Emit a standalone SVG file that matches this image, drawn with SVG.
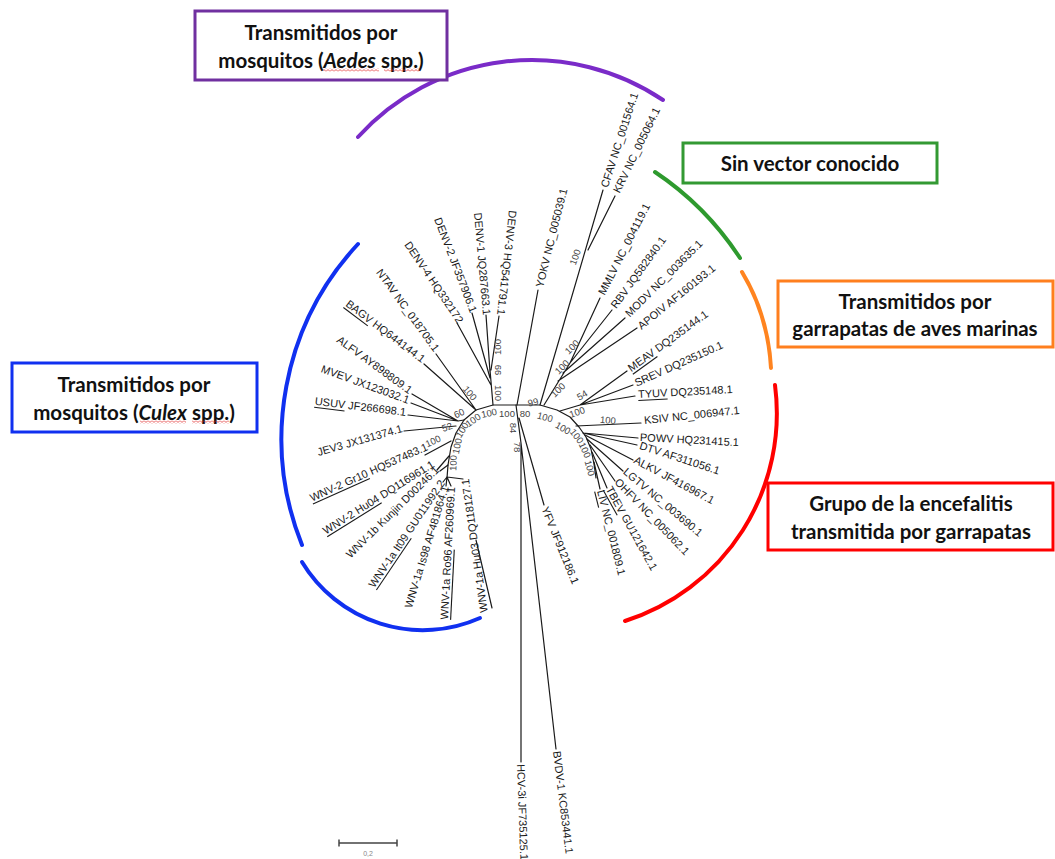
<svg xmlns="http://www.w3.org/2000/svg" width="1055" height="859" viewBox="0 0 1055 859">
<style>
.lf{font-family:"Liberation Sans",Arial,sans-serif;font-size:11px;fill:#1a1a1a;dominant-baseline:central}
.e{text-anchor:end}
.bs{font-family:"Liberation Sans",Arial,sans-serif;font-size:9.5px;fill:#444;text-anchor:middle;dominant-baseline:central}
.u{text-decoration:underline}
.br{fill:none;stroke:#1a1a1a;stroke-width:1.2;stroke-linecap:round;stroke-linejoin:round}
.bx{fill:#fff;stroke-width:3}
.tt{font-family:Lato,"Liberation Sans",sans-serif;font-size:20.5px;font-weight:700;fill:#111;text-anchor:middle}
.arc{fill:none;stroke-width:4;stroke-linecap:round}
</style>
<defs>
<pattern id="wavy" width="4" height="3" patternUnits="userSpaceOnUse"><path d="M0,0.6 L2,2.4 L4,0.6" fill="none" stroke="#e02020" stroke-width="0.7"/></pattern>
</defs>
<rect width="1055" height="859" fill="#fff"/>

<g id="clade-arcs">
<path class="arc" stroke="#7A2BC8" d="M358,137 A235,235 0 0 1 663,100"/>
<path class="arc" stroke="#1030F0" d="M358,244 A286,286 0 0 0 302,545"/>
<path class="arc" stroke="#1030F0" d="M302,562 A141,141 0 0 0 480,618"/>
<path class="arc" stroke="#2E9A2E" d="M655,172 Q706,206 740,258"/>
<path class="arc" stroke="#FF8420" d="M742,272 Q768,315 771,368"/>
<path class="arc" stroke="#FF0000" d="M775,385 A218,218 0 0 1 625,621"/>
</g>

<g id="connectors">
<path class="br" d="M447,478 L448,465 L451,447 L456,433 L464,420 L476,410 L493,405 L516,405 L540,405 L557,410 L570,417 L579,427 L586,437 L591,449 L594,464 L596,478"/>
<path class="br" d="M436,354 L476,410 M424,364 L476,410"/>
<path class="br" d="M412,394 L458,421 M411,403 L458,421 M408,415 L458,421 L464,420 M404,431 L456,426"/>
<path class="br" d="M425,455 L451,441 M437,470 L449,456 M440,471 L448,465 M443,482 L447,477 M446,486 L447,477 M451,486 L447,477 M463,479 L447,477"/>
<path class="br" d="M457,323 L491,385 M472,313 L490,378 M486,315 L490,372 M499,316 L491,370 M490,370 L493,405"/>
<path class="br" d="M538,290 L517,405 M603,190 L540,405 M615,196 L588,250"/>
<path class="br" d="M600,298 L570,363 M612,310 L570,363 M625,318 L563,373 M637,328 L558,381 M570,363 L544,405"/>
<path class="br" d="M627,371 L580,405 M633,385 L580,405 M635,396 L580,405 L560,411"/>
<path class="br" d="M641,423 L576,426 M638,438 L583,433 M637,445 L583,433 M633,460 L585,435 M623,471 L587,439 M615,481 L590,445 M607,488 L592,452 M600,489 L594,462"/>
<path class="br" d="M544,505 L519,418 M516,405 L521,443 L521,762 M521,443 L556,749"/>
<path class="br" stroke-width="1.6" d="M476,540 L492,608"/>
</g>

<g id="bootstrap">
<text class="bs" transform="translate(470,393) rotate(50)">100</text>
<text class="bs" transform="translate(459,413) rotate(-25)">60</text>
<text class="bs" transform="translate(447,427) rotate(-20)">52</text>
<text class="bs" transform="translate(433,441) rotate(-24)">100</text>
<text class="bs" transform="translate(489,413) rotate(-12)">100</text>
<text class="bs" transform="translate(473,420) rotate(-35)">100</text>
<text class="bs" transform="translate(462,430) rotate(-58)">100</text>
<text class="bs" transform="translate(457,446) rotate(-78)">100</text>
<text class="bs" transform="translate(453,463) rotate(-88)">100</text>
<text class="bs" transform="translate(507,413)">100</text>
<text class="bs" transform="translate(525,413)">80</text>
<text class="bs" transform="translate(545,417) rotate(15)">100</text>
<text class="bs" transform="translate(563,428) rotate(30)">100</text>
<text class="bs" transform="translate(577,436) rotate(52)">100</text>
<text class="bs" transform="translate(585,450) rotate(65)">100</text>
<text class="bs" transform="translate(590,468) rotate(75)">100</text>
<text class="bs" transform="translate(533,402) rotate(-15)">99</text>
<text class="bs" transform="translate(582,395) rotate(-30)">54</text>
<text class="bs" transform="translate(577,412) rotate(-20)">100</text>
<text class="bs" transform="translate(608,420) rotate(5)">100</text>
<text class="bs" transform="translate(572,347) rotate(-45)">100</text>
<text class="bs" transform="translate(562,367) rotate(-45)">100</text>
<text class="bs" transform="translate(558,390) rotate(-45)">100</text>
<text class="bs" transform="translate(575,257) rotate(-70)">100</text>
<text class="bs" transform="translate(513,428) rotate(90)">84</text>
<text class="bs" transform="translate(517,447) rotate(90)">78</text>
<text class="bs" transform="translate(497,347) rotate(-90)">100</text>
<text class="bs" transform="translate(497,370) rotate(-90)">99</text>
<text class="bs" transform="translate(498,393) rotate(90)">100</text>
</g>

<g id="leaf-NTAV"><text class="lf e" transform="translate(437,350) rotate(54)">NTAV NC_018705.1</text></g>
<g id="leaf-BAGV"><text class="lf e" transform="translate(424,360) rotate(37)"><tspan class="u">BAGV</tspan> HQ644144.1</text></g>
<g id="leaf-ALFV"><text class="lf e" transform="translate(411,391) rotate(36)">ALFV AY898809.1</text></g>
<g id="leaf-MVEV"><text class="lf e" transform="translate(409,400) rotate(20)">MVEV JX123032.1</text></g>
<g id="leaf-USUV"><text class="lf e" transform="translate(406,412) rotate(7)"><tspan class="u">USUV</tspan> JF266698.1</text></g>
<g id="leaf-JEV3"><text class="lf e" transform="translate(402,428) rotate(-16)">JEV3 JX131374.1</text></g>
<g id="leaf-WNV2Gr10"><text class="lf e" transform="translate(427,446) rotate(-24)"><tspan class="u">WNV-2 Gr10</tspan> HQ537483.1</text></g>
<g id="leaf-WNV2Hu04"><text class="lf e" transform="translate(433,463) rotate(-32)"><tspan class="u">WNV-2 Hu04</tspan> DQ116961.1</text></g>
<g id="leaf-WNV1bKunjin"><text class="lf e" transform="translate(437,468) rotate(-44.5)">WNV-1b Kunjin D00246.1</text></g>
<g id="leaf-WNV1aIt09"><text class="lf e" transform="translate(442,481) rotate(-56)"><tspan class="u">WNV-1a It09</tspan> GU011992.2</text></g>
<g id="leaf-WNV1aIs98"><text class="lf e" transform="translate(445,486) rotate(-73)">WNV-1a Is98 AF481864.1</text></g>
<g id="leaf-WNV1aRo96"><text class="lf e" transform="translate(451,487) rotate(-87)"><tspan class="u">WNV-1a Ro96</tspan> AF260969.1</text></g>
<g id="leaf-WNV1aHu03"><text class="lf e" transform="translate(465,479) rotate(-98)">WNV-1a Hu03 DQ118127.1</text></g>
<g id="leaf-DENV4"><text class="lf e" transform="translate(461,322) rotate(56)">DENV-4 HQ332172</text></g>
<g id="leaf-DENV2"><text class="lf e" transform="translate(474,312) rotate(69)">DENV-2 JF357906.1</text></g>
<g id="leaf-DENV1"><text class="lf e" transform="translate(487,315) rotate(85)">DENV-1 JQ287663.1</text></g>
<g id="leaf-DENV3"><text class="lf e" transform="translate(501,315) rotate(96.6)">DENV-3 HQ541791.1</text></g>
<g id="leaf-YOKV"><text class="lf" transform="translate(539,287) rotate(-76)">YOKV NC_005039.1</text></g>
<g id="leaf-CFAV"><text class="lf" transform="translate(604,187) rotate(-72)">CFAV NC_001564.1</text></g>
<g id="leaf-KRV"><text class="lf" transform="translate(616,192) rotate(-64)">KRV NC_005064.1</text></g>
<g id="leaf-MMLV"><text class="lf" transform="translate(601,294) rotate(-63)">MMLV NC_004119.1</text></g>
<g id="leaf-RBV"><text class="lf" transform="translate(613,307) rotate(-54)">RBV JQ582840.1</text></g>
<g id="leaf-MODV"><text class="lf" transform="translate(627,315) rotate(-45)">MODV NC_003635.1</text></g>
<g id="leaf-APOIV"><text class="lf" transform="translate(639,327) rotate(-39)">APOIV AF160193.1</text></g>
<g id="leaf-MEAV"><text class="lf" transform="translate(629,369) rotate(-36)"><tspan class="u">MEAV</tspan> DQ235144.1</text></g>
<g id="leaf-SREV"><text class="lf" transform="translate(635,383) rotate(-24)">SREV DQ235150.1</text></g>
<g id="leaf-TYUV"><text class="lf" transform="translate(638,394) rotate(-3)"><tspan class="u">TYUV</tspan> DQ235148.1</text></g>
<g id="leaf-KSIV"><text class="lf" transform="translate(644,420) rotate(-6)">KSIV NC_006947.1</text></g>
<g id="leaf-POWV"><text class="lf" transform="translate(640,437) rotate(3)">POWV HQ231415.1</text></g>
<g id="leaf-DTV"><text class="lf" transform="translate(640,445) rotate(18)">DTV AF311056.1</text></g>
<g id="leaf-ALKV"><text class="lf" transform="translate(635,459) rotate(28)">ALKV JF416967.1</text></g>
<g id="leaf-LGTV"><text class="lf" transform="translate(625,470) rotate(40)">LGTV NC_003690.1</text></g>
<g id="leaf-OHFV"><text class="lf" transform="translate(617,480) rotate(46)">OHFV NC_005062.1</text></g>
<g id="leaf-TBEV"><text class="lf" transform="translate(609,487) rotate(61)"><tspan class="u">TBEV</tspan> GU121642.1</text></g>
<g id="leaf-LIV"><text class="lf" transform="translate(601,490) rotate(76)"><tspan class="u">LIV</tspan> NC_001809.1</text></g>
<g id="leaf-YFV"><text class="lf" transform="translate(545,507) rotate(68)">YFV JF912186.1</text></g>
<g id="leaf-BVDV1"><text class="lf" transform="translate(557,751) rotate(83)">BVDV-1 KC853441.1</text></g>
<g id="leaf-HCV3i"><text class="lf" font-size="10" transform="translate(521,764) rotate(88)">HCV-3i JF735125.1</text></g>

<g id="scale-bar">
<path d="M339,843 H397 M339,839.5 V846.5 M397,839.5 V846.5" stroke="#444" stroke-width="1.5" fill="none"/>
<text x="368" y="856" font-family="Liberation Sans, Arial, sans-serif" font-size="7" fill="#888" text-anchor="middle">0,2</text>
</g>

<g id="box-aedes">
<rect class="bx" x="195" y="11" width="252" height="69" stroke="#7030A0"/>
<text class="tt" x="321" y="40">Transmitidos por</text>
<text class="tt" x="321" y="68">mosquitos (<tspan font-style="italic">Aedes</tspan> spp.)</text>
<rect x="323" y="68.5" width="56" height="3" fill="url(#wavy)"/>
<rect x="384" y="68.5" width="36" height="3" fill="url(#wavy)"/>
</g>
<g id="box-culex">
<rect class="bx" x="12" y="363" width="245" height="69" stroke="#1030F0"/>
<text class="tt" x="134" y="392">Transmitidos por</text>
<text class="tt" x="134" y="420">mosquitos (<tspan font-style="italic">Culex</tspan> spp.)</text>
<rect x="140" y="420.5" width="46" height="3" fill="url(#wavy)"/>
<rect x="192" y="420.5" width="37" height="3" fill="url(#wavy)"/>
</g>
<g id="box-sinvector">
<rect class="bx" x="683" y="143" width="254" height="40" stroke="#339933"/>
<text class="tt" x="810" y="171">Sin vector conocido</text>
</g>
<g id="box-aves">
<rect class="bx" x="778" y="281" width="275" height="66" stroke="#FF7F1E"/>
<text class="tt" x="915" y="309">Transmitidos por</text>
<text class="tt" x="915" y="336">garrapatas de aves marinas</text>
</g>
<g id="box-tbe">
<rect class="bx" x="768" y="483" width="285" height="67" stroke="#FF0000"/>
<text class="tt" x="911" y="511">Grupo de la encefalitis</text>
<text class="tt" x="911" y="539">transmitida por garrapatas</text>
</g>
</svg>
